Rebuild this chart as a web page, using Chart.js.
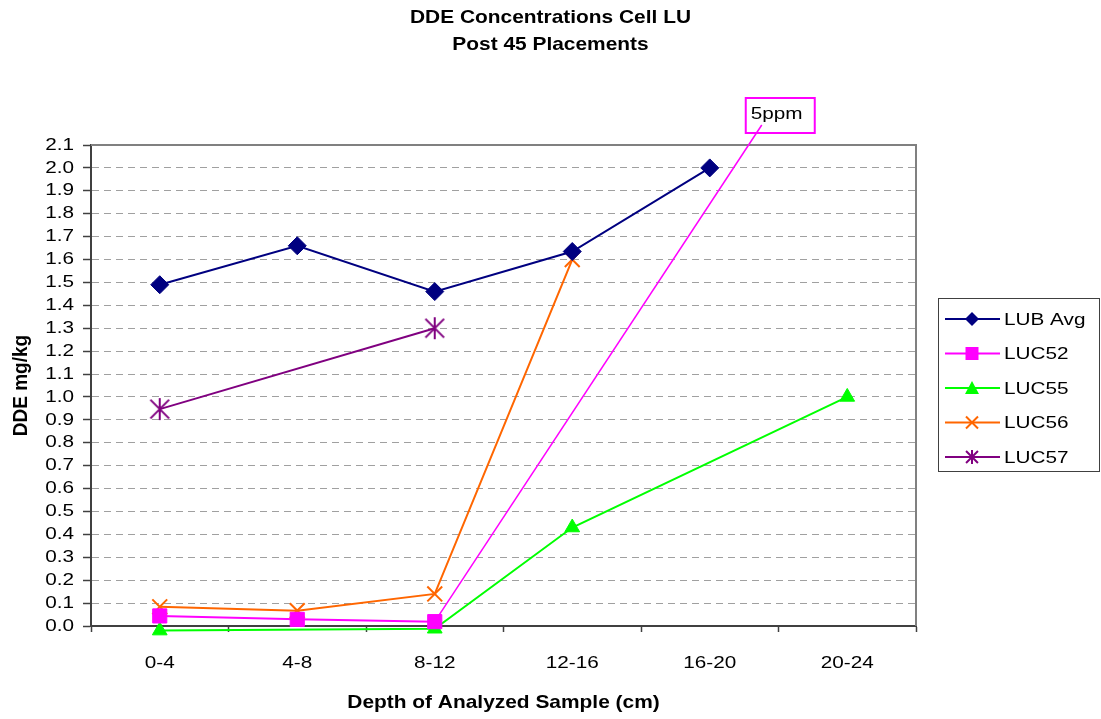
<!DOCTYPE html>
<html>
<head>
<meta charset="utf-8">
<script src="https://cdn.jsdelivr.net/npm/chart.js@4/dist/chart.umd.min.js"></script>
<style>
html,body{margin:0;padding:0;background:#fff;}
#wrap{width:1101px;height:719px;}
</style>
</head>
<body>
<div id="wrap"><canvas id="c" width="1101" height="719"></canvas></div>
<script>
// ---- data ----
const categories = ['0-4', '4-8', '8-12', '12-16', '16-20', '20-24'];
const lubAvg = [1.49, 1.66, 1.46, 1.635, 2.0, null];
const luc52  = [0.044, 0.029, 0.019, null, null, null];
const luc55  = [-0.02, null, -0.012, 0.43, null, 1.0];
const luc56  = [0.084, 0.067, 0.14, 1.60, null, null];
const luc57  = [0.947, null, 1.30, null, null, null];
const seriesNames = ['LUB Avg', 'LUC52', 'LUC55', 'LUC56', 'LUC57'];
const titleLines = ['DDE Concentrations Cell LU', 'Post 45 Placements'];
const xTitle = 'Depth of Analyzed Sample (cm)';
const yTitle = 'DDE mg/kg';
const yMin = 0, yMax = 2.1, yStep = 0.1;
const calloutText = '5ppm';
const calloutIndex = 2; // LUC52 point the 5ppm leader starts from

const FONT = '"Liberation Sans", Arial, sans-serif';
const FS = 17;      // regular text
const FB = 19;      // bold titles

const canvas = document.getElementById('c');
// The original's text is rendered wide (horizontally stretched); reproduce that look.
(function patchText(cx) {
  const orig = cx.fillText;
  cx.fillText = function (text, x, y) {
    const t = this.getTransform();
    const rotated = Math.abs(t.b) > 0.01;
    const s = /bold/.test(this.font) ? 1.1 : 1.22;
    this.save();
    this.translate(x, y);
    if (rotated) this.scale(1, s); else this.scale(s, 1);
    orig.call(this, text, 0, 0);
    this.restore();
  };
})(canvas.getContext('2d'));

function makeAsterisk(size, color, lw) {
  const c = document.createElement('canvas');
  c.width = size; c.height = size;
  const g = c.getContext('2d');
  g.strokeStyle = color; g.lineWidth = lw; g.lineCap = 'butt';
  const m = size / 2, r = size / 2 - 1;
  g.beginPath();
  g.moveTo(m - r * 0.85, m - r * 0.85); g.lineTo(m + r * 0.85, m + r * 0.85);
  g.moveTo(m + r * 0.85, m - r * 0.85); g.lineTo(m - r * 0.85, m + r * 0.85);
  g.moveTo(m, m - r); g.lineTo(m, m + r);
  g.stroke();
  return c;
}
const starBig = makeAsterisk(24, '#800080', 2);
const starSmall = makeAsterisk(16, '#800080', 2);

const colors = ['#000080', '#FF00FF', '#00FF00', '#FF6600', '#800080'];
const styles = ['rectRot', 'rect', 'triangle', 'crossRot', starBig];
const radii = [9, 10, 8.5, 10.5, 12];
const values = [lubAvg, luc52, luc55, luc56, luc57];

const datasets = seriesNames.map((name, i) => ({
  label: name,
  data: values[i],
  borderColor: colors[i],
  backgroundColor: colors[i],
  pointBackgroundColor: colors[i],
  pointBorderColor: colors[i],
  pointStyle: styles[i],
  pointRadius: radii[i],
  pointBorderWidth: (i === 3) ? 2 : 1,
  borderWidth: 2,
  spanGaps: true,
  tension: 0,
  clip: false
}));

const framePlugin = {
  id: 'frame',
  beforeDatasetsDraw(chart) {
    const {ctx, chartArea: a} = chart;
    ctx.save();
    ctx.strokeStyle = '#808080';
    ctx.lineWidth = 2;
    ctx.beginPath();
    ctx.moveTo(a.left, a.top); ctx.lineTo(a.right, a.top); ctx.lineTo(a.right, a.bottom);
    ctx.stroke();
    ctx.restore();
  }
};

const titlePlugin = {
  id: 'titleText',
  afterDraw(chart) {
    const ctx = chart.ctx;
    ctx.save();
    ctx.fillStyle = '#000';
    ctx.font = 'bold ' + FB + 'px ' + FONT;
    ctx.textAlign = 'center';
    ctx.textBaseline = 'middle';
    titleLines.forEach((t, i) => ctx.fillText(t, chart.width / 2, 18 + i * 27));
    ctx.restore();
  }
};

const calloutPlugin = {
  id: 'callout',
  afterDraw(chart) {
    const ctx = chart.ctx;
    const xs = chart.scales.x, ys = chart.scales.y;
    const x0 = xs.getPixelForValue(calloutIndex), y0 = ys.getPixelForValue(luc52[calloutIndex]);
    const bx = xs.getPixelForValue(4) + 36, by = chart.chartArea.top - 47;
    const bw = 69, bh = 35;
    ctx.save();
    ctx.fillStyle = '#fff';
    ctx.fillRect(bx, by, bw, bh);
    ctx.strokeStyle = '#FF00FF';
    ctx.lineWidth = 1.5;
    ctx.beginPath();
    ctx.moveTo(x0, y0); ctx.lineTo(bx + 16, by + 27);
    ctx.stroke();
    ctx.lineWidth = 2;
    ctx.strokeRect(bx, by, bw, bh);
    ctx.fillStyle = '#000';
    ctx.font = FS + 'px ' + FONT;
    ctx.textAlign = 'left';
    ctx.textBaseline = 'middle';
    ctx.fillText(calloutText, bx + 5, by + 16);
    ctx.restore();
  }
};

function drawMarker(ctx, i, x, y) {
  const c = colors[i];
  ctx.save();
  ctx.fillStyle = c; ctx.strokeStyle = c; ctx.lineWidth = 2;
  ctx.beginPath();
  if (i === 0) {
    const r = 7;
    ctx.moveTo(x, y - r); ctx.lineTo(x + r, y); ctx.lineTo(x, y + r); ctx.lineTo(x - r, y); ctx.closePath(); ctx.fill();
  } else if (i === 1) {
    ctx.rect(x - 6.5, y - 6.5, 13, 13); ctx.fill();
  } else if (i === 2) {
    ctx.moveTo(x, y - 7); ctx.lineTo(x + 7, y + 6); ctx.lineTo(x - 7, y + 6); ctx.closePath(); ctx.fill();
  } else if (i === 3) {
    ctx.moveTo(x - 6, y - 6); ctx.lineTo(x + 6, y + 6); ctx.moveTo(x + 6, y - 6); ctx.lineTo(x - 6, y + 6); ctx.stroke();
  } else {
    ctx.drawImage(starSmall, x - 8, y - 8);
  }
  ctx.restore();
}

const legendPlugin = {
  id: 'customLegend',
  afterDraw(chart) {
    const ctx = chart.ctx;
    const lx = chart.chartArea.right + 22, ly = 298, lw = 162, lh = 174;
    ctx.save();
    ctx.fillStyle = '#fff';
    ctx.fillRect(lx, ly, lw, lh);
    ctx.strokeStyle = '#404040';
    ctx.lineWidth = 1;
    ctx.strokeRect(lx + 0.5, ly + 0.5, lw - 1, lh - 1);
    chart.data.datasets.forEach((ds, i) => {
      const y = ly + 21 + i * 34.5;
      ctx.strokeStyle = ds.borderColor;
      ctx.lineWidth = 2;
      ctx.beginPath();
      ctx.moveTo(lx + 7, y); ctx.lineTo(lx + 62, y);
      ctx.stroke();
      drawMarker(ctx, i, lx + 34, y);
      ctx.fillStyle = '#000';
      ctx.font = FS + 'px ' + FONT;
      ctx.textAlign = 'left';
      ctx.textBaseline = 'middle';
      ctx.fillText(ds.label, lx + 66, y + 1);
    });
    ctx.restore();
  }
};

new Chart(canvas, {
  type: 'line',
  data: { labels: categories, datasets },
  options: {
    responsive: false,
    animation: false,
    layout: { padding: { left: 0, right: 185, top: 145, bottom: 0 } },
    plugins: { legend: { display: false }, tooltip: { enabled: false }, title: { display: false } },
    scales: {
      x: {
        type: 'category',
        offset: true,
        grid: { offset: true, drawOnChartArea: false, drawTicks: true, tickLength: 6, tickColor: '#404040', tickWidth: 1.5 },
        border: { color: '#404040', width: 2 },
        ticks: { color: '#000', font: { family: FONT, size: FS }, padding: 21, maxRotation: 0, autoSkip: false },
        title: { display: true, text: xTitle, color: '#000', font: { family: FONT, size: FB, weight: 'bold' }, padding: { top: 0, bottom: 5 } },
        afterFit(s) { s.height = 93; }
      },
      y: {
        min: yMin, max: yMax,
        grid: { color: '#a0a0a0', lineWidth: 1, drawTicks: true, tickLength: 8, tickColor: '#404040', tickWidth: 1.5, tickBorderDash: [] },
        border: { color: '#404040', width: 2, dash: [7, 5] },
        ticks: { stepSize: yStep, autoSkip: false, color: '#000', font: { family: FONT, size: FS }, padding: 9,
                 callback: (v) => Number(v).toFixed(1) },
        title: { display: true, text: yTitle, color: '#000', font: { family: FONT, size: FB, weight: 'bold' }, padding: { top: 10, bottom: 0 } },
        afterFit(s) { s.width = 91; }
      }
    }
  },
  plugins: [framePlugin, titlePlugin, calloutPlugin, legendPlugin]
});
</script>
</body>
</html>
